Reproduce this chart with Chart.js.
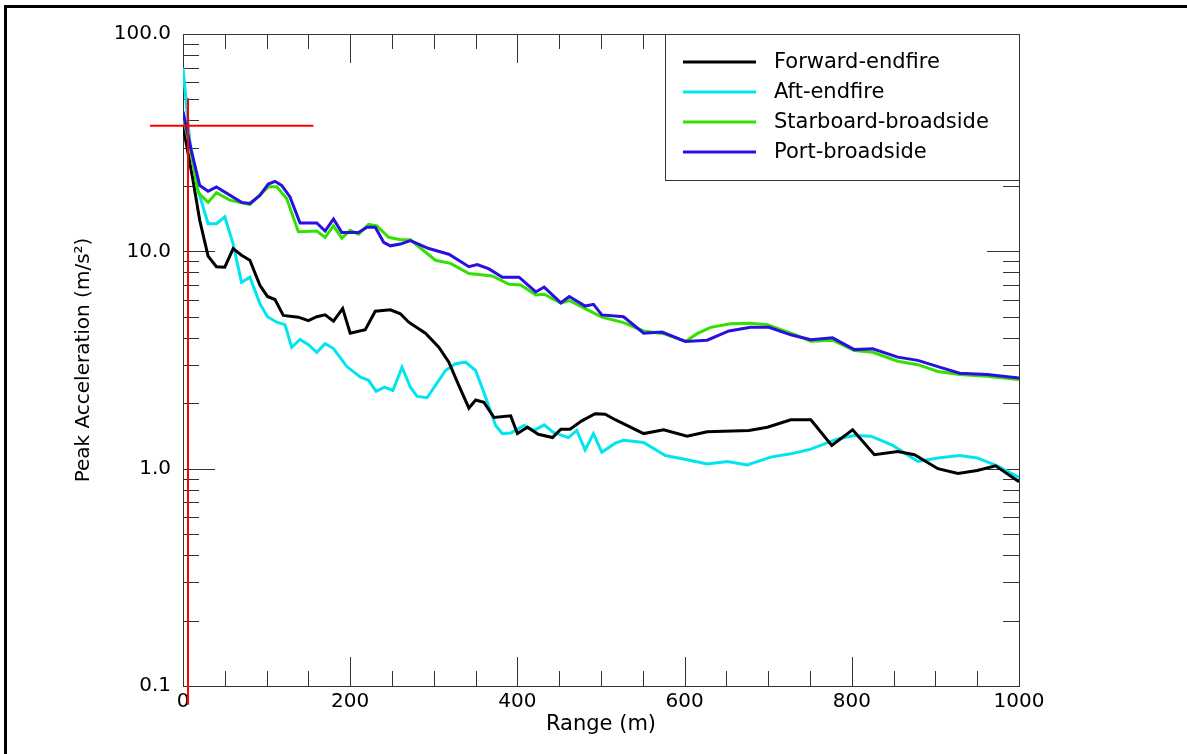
<!DOCTYPE html>
<html>
<head>
<meta charset="utf-8">
<script src="https://cdn.jsdelivr.net/npm/chart.js@4"></script>
<style>
  html, body { margin: 0; padding: 0; background: #fff; }
  #wrap { width: 1187px; height: 754px; }
</style>
</head>
<body>
<div id="wrap"><canvas id="accel-chart" width="1187" height="754"></canvas></div>
<script>
// Peak acceleration vs range, four orientations (log y axis)
const seriesNames = ['Forward-endfire', 'Aft-endfire', 'Starboard-broadside', 'Port-broadside'];
const seriesColors = ['#000000', '#00e5ee', '#33e000', '#2a10e0'];

const fwdRange = [0, 12, 20, 30, 40, 50, 60, 70, 80, 92, 101, 110, 120, 138, 150, 160, 170, 180, 191, 200, 218, 230, 248, 260, 270, 290, 306, 318, 330, 342, 350, 360, 372, 392, 400, 412, 425, 442, 452, 463, 477, 493, 505, 517, 551, 575, 603, 627, 677, 699, 727, 751, 776, 801, 827, 855, 875, 903, 927, 950, 972, 1000];
const fwdAccel = [38, 21.2, 13.9, 9.5, 8.5, 8.45, 10.3, 9.6, 9.1, 6.97, 6.2, 6.0, 5.07, 4.98, 4.8, 5.0, 5.1, 4.77, 5.45, 4.2, 4.36, 5.3, 5.38, 5.16, 4.72, 4.2, 3.62, 3.09, 2.41, 1.9, 2.07, 2.02, 1.72, 1.75, 1.45, 1.55, 1.44, 1.39, 1.52, 1.52, 1.66, 1.79, 1.78, 1.68, 1.45, 1.51, 1.41, 1.48, 1.5, 1.55, 1.68, 1.68, 1.28, 1.51, 1.16, 1.2, 1.16, 1.0, 0.95, 0.98, 1.03, 0.87];

const aftRange = [0, 8, 18, 30, 40, 50, 60, 70, 80, 92, 101, 112, 122, 130, 140, 150, 160, 170, 180, 196, 212, 222, 231, 241, 251, 262, 272, 280, 292, 314, 326, 338, 350, 362, 374, 382, 392, 408, 420, 432, 443, 461, 471, 481, 491, 501, 517, 527, 551, 577, 603, 627, 651, 675, 703, 727, 751, 783, 803, 823, 849, 879, 903, 929, 950, 974, 1000];
const aftAccel = [70, 32.5, 19.1, 13.4, 13.4, 14.4, 10.8, 7.2, 7.6, 5.74, 5.0, 4.72, 4.6, 3.62, 3.93, 3.72, 3.43, 3.76, 3.57, 2.95, 2.64, 2.55, 2.27, 2.37, 2.29, 2.93, 2.37, 2.15, 2.12, 2.83, 3.04, 3.09, 2.83, 2.13, 1.58, 1.45, 1.46, 1.58, 1.5, 1.59, 1.47, 1.39, 1.5, 1.22, 1.45, 1.19, 1.31, 1.35, 1.32, 1.15, 1.1, 1.05, 1.08, 1.04, 1.13, 1.17, 1.23, 1.37, 1.42, 1.41, 1.28, 1.08, 1.12, 1.15, 1.12, 1.03, 0.91];

const stbdRange = [0, 10, 18, 30, 40, 56, 80, 102, 112, 124, 138, 160, 170, 180, 190, 200, 210, 222, 232, 246, 260, 272, 302, 320, 342, 370, 390, 404, 422, 432, 452, 462, 481, 501, 527, 551, 575, 601, 615, 631, 655, 679, 699, 727, 751, 777, 803, 825, 855, 879, 903, 929, 962, 1000];
const stbdAccel = [42, 28, 18.7, 16.8, 18.6, 17.2, 16.4, 19.8, 19.8, 17.5, 12.3, 12.4, 11.6, 13.1, 11.5, 12.5, 12.0, 13.3, 13.1, 11.6, 11.3, 11.3, 9.1, 8.8, 7.9, 7.7, 7.05, 7.0, 6.3, 6.35, 5.78, 5.94, 5.45, 4.98, 4.7, 4.3, 4.18, 3.85, 4.18, 4.47, 4.64, 4.67, 4.6, 4.2, 3.86, 3.9, 3.5, 3.43, 3.12, 3.01, 2.8, 2.71, 2.66, 2.57];

const portRange = [0, 10, 20, 30, 40, 70, 80, 92, 102, 110, 118, 128, 140, 160, 170, 180, 190, 210, 220, 230, 240, 248, 260, 272, 294, 318, 342, 352, 366, 382, 402, 422, 432, 452, 462, 481, 491, 501, 527, 551, 573, 601, 627, 653, 679, 701, 727, 751, 777, 803, 825, 855, 879, 903, 929, 962, 1000];
const portAccel = [44, 29, 20.1, 18.9, 19.8, 16.8, 16.6, 18.1, 20.4, 21.0, 20.1, 17.8, 13.5, 13.5, 12.4, 14.1, 12.2, 12.2, 12.9, 12.9, 11.0, 10.6, 10.8, 11.2, 10.3, 9.7, 8.5, 8.7, 8.3, 7.6, 7.6, 6.5, 6.85, 5.8, 6.2, 5.6, 5.7, 5.1, 5.0, 4.2, 4.25, 3.85, 3.9, 4.3, 4.47, 4.47, 4.13, 3.92, 4.0, 3.53, 3.56, 3.26, 3.15, 2.95, 2.75, 2.71, 2.61];

// red reference marks
const markRange = [6, 6];
const markAccel = [50.6, 0.082];
const refRange = [-39.5, 156];
const refAccel = [37.8, 37.8];

const xTickValues = [0, 200, 400, 600, 800, 1000];
const yTickValues = [0.1, 1, 10, 100];
const yTickLabels = ['0.1', '1.0', '10.0', '100.0'];

function toPoints(xs, ys) {
    return xs.map((x, i) => ({ x: x, y: ys[i] }));
}

const pairs = [[fwdRange, fwdAccel], [aftRange, aftAccel], [stbdRange, stbdAccel], [portRange, portAccel]];
const drawOrder = [2, 3, 1, 0];

const datasets = pairs.map(([xs, ys], i) => ({
    label: seriesNames[i],
    data: toPoints(xs, ys),
    borderColor: seriesColors[i],
    borderWidth: 3,
    pointRadius: 0,
    tension: 0,
    order: drawOrder[i]
}));
[[markRange, markAccel], [refRange, refAccel]].forEach(([xs, ys]) => {
    datasets.push({
        label: '',
        data: toPoints(xs, ys),
        borderColor: '#ff0000',
        borderWidth: 2,
        pointRadius: 0,
        clip: false,
        order: -1
    });
});

// frame, inward ticks, outer border, legend box
const framePlugin = {
    id: 'frame',
    beforeDatasetsDraw(chart) {
        const { ctx, chartArea: a, scales: { x, y } } = chart;
        ctx.save();
        ctx.fillStyle = '#000';
        ctx.fillRect(4, 5, 1187, 3);
        ctx.fillRect(4, 5, 3, 754);

        ctx.strokeStyle = '#333';
        ctx.lineWidth = 1;
        ctx.strokeRect(a.left + 0.5, a.top + 0.5, a.right - a.left, a.bottom - a.top);

        ctx.beginPath();
        for (let v = 0; v <= 1000; v += 50) {
            const px = Math.round(x.getPixelForValue(v)) + 0.5;
            const len = v % 200 === 0 ? 29 : 15;
            ctx.moveTo(px, a.bottom); ctx.lineTo(px, a.bottom - len);
            ctx.moveTo(px, a.top); ctx.lineTo(px, a.top + len);
        }
        [0.1, 1, 10].forEach((d) => {
            for (let k = 1; k <= 10; k++) {
                const py = Math.round(y.getPixelForValue(k * d)) + 0.5;
                const len = (k === 1 || k === 10) ? 32 : 16;
                ctx.moveTo(a.left, py); ctx.lineTo(a.left + len, py);
                ctx.moveTo(a.right, py); ctx.lineTo(a.right - len, py);
            }
        });
        ctx.stroke();
        ctx.restore();
    },
    afterDraw(chart) {
        const { ctx } = chart;
        ctx.save();
        ctx.fillStyle = '#fff';
        ctx.fillRect(665, 34, 355, 146);
        ctx.strokeStyle = '#333';
        ctx.lineWidth = 1;
        ctx.strokeRect(665.5, 34.5, 354, 146);
        ctx.font = "21px 'DejaVu Sans'";
        ctx.textBaseline = 'middle';
        ctx.fillStyle = '#000';
        seriesNames.forEach((name, i) => {
            const yy = 62 + i * 30;
            ctx.strokeStyle = seriesColors[i];
            ctx.lineWidth = 3;
            ctx.beginPath();
            ctx.moveTo(683, yy); ctx.lineTo(756, yy);
            ctx.stroke();
            ctx.fillText(name, 774, yy + 1);
        });
        ctx.restore();
    }
};

new Chart(document.getElementById('accel-chart').getContext('2d'), {
    type: 'line',
    data: { datasets },
    options: {
        responsive: false,
        animation: false,
        layout: { padding: { top: 34, right: 168, left: 0, bottom: 0 } },
        plugins: { legend: { display: false }, tooltip: { enabled: false } },
        scales: {
            x: {
                type: 'linear',
                min: 0,
                max: 1000,
                afterFit(scale) { scale.height = 68; },
                afterBuildTicks(scale) { scale.ticks = xTickValues.map((v) => ({ value: v })); },
                ticks: {
                    color: '#000',
                    padding: -4,
                    maxRotation: 0,
                    font: { family: 'DejaVu Sans', size: 20 },
                    callback: (v) => String(v)
                },
                grid: { display: false },
                border: { display: false },
                title: {
                    display: true,
                    text: 'Range (m)',
                    color: '#000',
                    font: { family: 'DejaVu Sans', size: 21 },
                    padding: { top: 0, bottom: 17 }
                }
            },
            y: {
                type: 'logarithmic',
                min: 0.1,
                max: 100,
                afterFit(scale) { scale.width = 183; },
                afterBuildTicks(scale) { scale.ticks = yTickValues.map((v) => ({ value: v })); },
                ticks: {
                    color: '#000',
                    padding: 4,
                    font: { family: 'DejaVu Sans', size: 20 },
                    callback: (v) => yTickLabels[yTickValues.indexOf(v)]
                },
                grid: { display: false },
                border: { display: false },
                title: {
                    display: true,
                    text: 'Peak Acceleration (m/s²)',
                    color: '#000',
                    font: { family: 'DejaVu Sans', size: 20 },
                    padding: { top: 72, bottom: 0 }
                }
            }
        }
    },
    plugins: [framePlugin]
});
</script>
</body>
</html>
